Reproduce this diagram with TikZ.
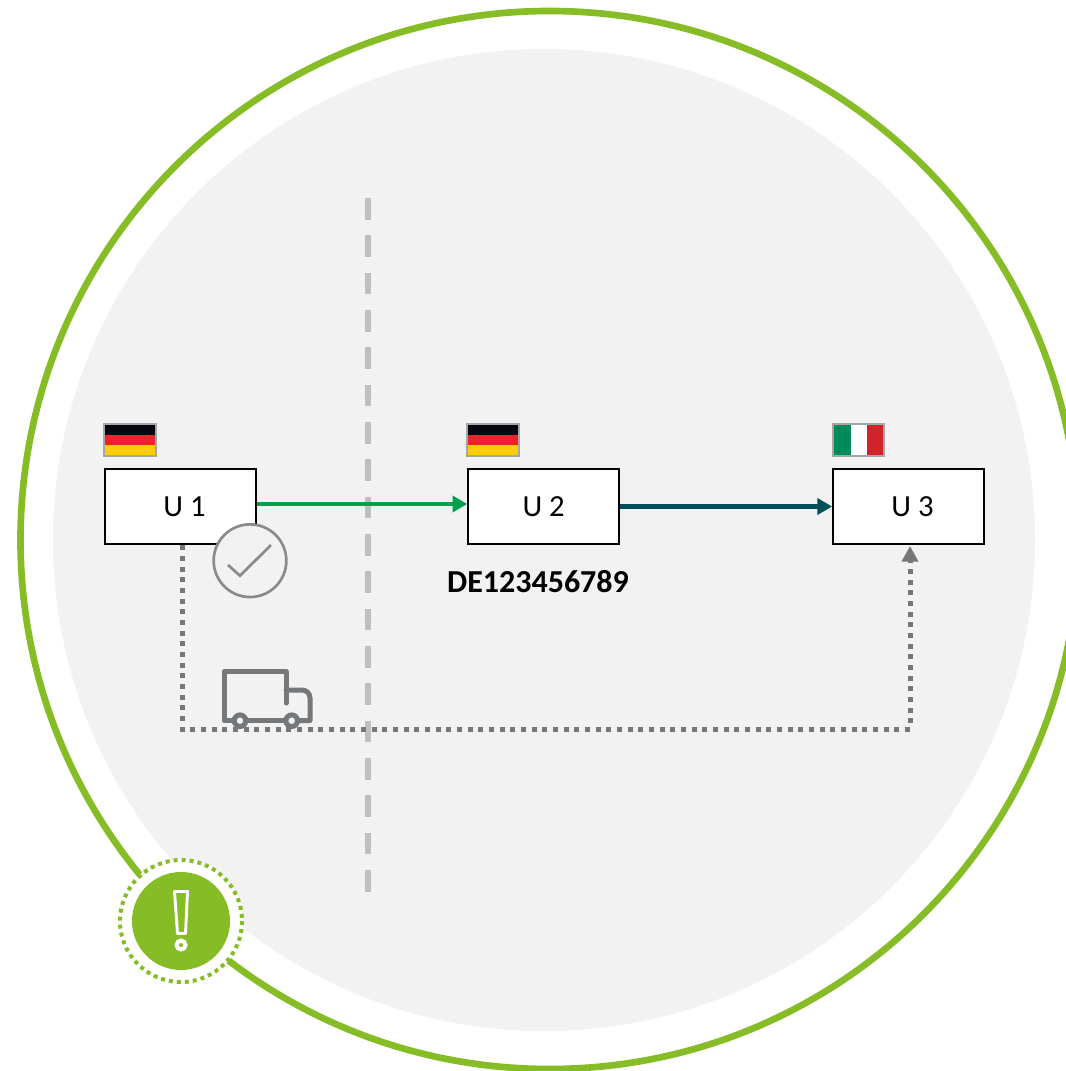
\documentclass[tikz,border=0pt]{standalone}
\usepackage{fontspec}
\setmainfont{Carlito}
\usetikzlibrary{arrows.meta,calc}
\definecolor{lime}{HTML}{86BC25}
\definecolor{panel}{HTML}{F2F2F2}
\definecolor{arrowgreen}{HTML}{00A14B}
\definecolor{teal}{HTML}{004F59}
\definecolor{cool}{HTML}{75787B}
\definecolor{ring}{HTML}{8A8A8A}
\definecolor{divider}{HTML}{BFBFBF}
\definecolor{flagblack}{HTML}{05060F}
\definecolor{flagred}{HTML}{F0202D}
\definecolor{flagyellow}{HTML}{FFCC00}
\definecolor{itgreen}{HTML}{008A5E}
\definecolor{itred}{HTML}{D2232A}
\tikzset{
  x=0.75pt,y=-0.75pt,
  partybox/.style={draw=black,line width=1.4pt,fill=white,minimum width=113.25pt,minimum height=56.7pt,inner sep=0pt,font=\fontsize{23}{23}\selectfont},
  flagframe/.style={draw=black!35,line width=1.5pt},
  sellflow/.style={line width=3pt,draw=arrowgreen,-{Triangle[length=11pt,width=12pt]}},
  payflow/.style={line width=3.75pt,draw=teal,-{Triangle[length=11pt,width=12pt]}},
  goodsflow/.style={line width=3.75pt,draw=cool,dash pattern=on 3.75pt off 4.25pt,-{Triangle[length=11.75pt,width=12pt]}},
  truckline/.style={draw=cool,line width=3.75pt,line join=round,line cap=round},
  wheelnode/.style={circle,draw=cool,line width=3.75pt,fill=panel,minimum size=8.7pt,inner sep=0pt},
}
\newcommand{\deflag}[2]{%
  \fill[flagblack] (#1,#2) rectangle ++(51,10.3);
  \fill[flagred] (#1,#2+10.3) rectangle ++(51,10.5);
  \fill[flagyellow] (#1,#2+20.8) rectangle ++(51,10.5);
  \draw[flagframe] (#1,#2) rectangle ++(51.3,31.4);
}
\begin{document}
\begin{tikzpicture}
\useasboundingbox (0,0) rectangle (1066,1071);
\clip (0,0) rectangle (1066,1071);
\fill[white] (0,0) rectangle (1066,1071);
% panel and outer ring
\fill[panel] (544,540) circle[radius=491];
\draw[lime,line width=5pt] (549.5,540) circle[radius=529];
% divider
\coordinate (divtop) at (368,198);
\coordinate (divbot) at (368,892);
\draw[divider,line width=4.5pt,dash pattern=on 16.25pt off 11.75pt] (divtop) -- (divbot);
% parties
\node[partybox] (u1) at (180.5,506.5) {\hspace*{6pt}U 1};
\node[partybox] (u2) at (543.7,506.5) {U 2};
\node[partybox] (u3) at (908.5,506.5) {\hspace*{6pt}U 3};
% flags
\deflag{104.3}{424.3}
\deflag{467.3}{424.3}
\fill[itgreen] (832.7,424.3) rectangle (850.7,455.7);
\fill[white] (850.7,424.3) rectangle (867.3,455.7);
\fill[itred] (867.3,424.3) rectangle (884,455.7);
\draw[flagframe] (832.7,424.3) rectangle (884,455.7);
% label
\node[font=\fontsize{24}{24}\selectfont\bfseries,inner sep=0pt] (vat) at (538,582) {DE123456789};
% flows
\draw[sellflow] (u1.east |- 0,504) -- (u2.west |- 0,504);
\draw[payflow] (u2.east) -- (u3.west);
\coordinate (c1) at (182,729);
\coordinate (c2) at (910,729);
\draw[goodsflow] (u1.south -| c1) -- (c1) -- (c2) -- (910,546);
% check badge
\node[circle,draw=ring,line width=2pt,fill=panel,minimum size=54.5pt,inner sep=0pt] (check) at (250,560.7) {};
\draw[ring,line width=2pt] (228,565) -- (240,575.7) -- (271,545);
% truck
\draw[truckline] (232,720.5) -- (224,720.5) -- (224,671.5) -- (286,671.5) -- (286,703);
\draw[truckline] (286,690) -- (302,690) arc[start angle=-90,end angle=0,radius=8] -- (310,720.5) -- (298,720.5);
\draw[truckline] (248,720.5) -- (284,720.5);
\node[wheelnode] (wheelA) at (240,720.7) {};
\node[wheelnode] (wheelB) at (291.7,720.7) {};
% alert badge
\node[circle,fill=white,inner sep=0pt,minimum size=93pt] (halo) at (181,921) {};
\draw[lime,line width=3pt,dash pattern=on 3pt off 3pt] (181,921) circle[radius=61];
\node[circle,fill=lime,minimum size=73.5pt,inner sep=0pt] (alert) at (181,921) {};
\draw[white,line width=2.2pt,line join=round] (174.5,891.5) -- (187.5,891.5) -- (185.5,933.5) -- (177.5,933.5) -- cycle;
\draw[white,line width=3.1pt] (181,945) circle[radius=4.4];
\end{tikzpicture}
\end{document}
